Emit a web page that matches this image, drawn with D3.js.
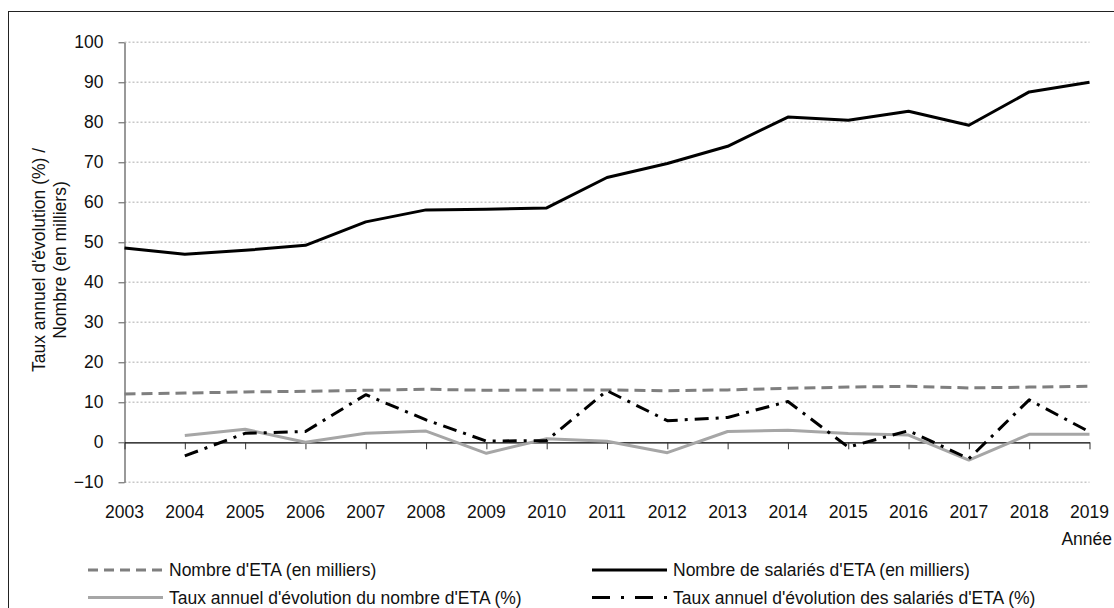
<!DOCTYPE html>
<html>
<head>
<meta charset="utf-8">
<script src="https://cdn.jsdelivr.net/npm/d3@7"></script>
<style>
  html, body { margin: 0; padding: 0; background: #fff; }
  svg { display: block; }
  text { font-family: "Liberation Sans", Arial, sans-serif; fill: #111; }
</style>
</head>
<body>
<svg id="chart" width="1114" height="608"></svg>
<script>
// Années
const years = [2003, 2004, 2005, 2006, 2007, 2008, 2009, 2010, 2011, 2012, 2013, 2014, 2015, 2016, 2017, 2018, 2019];

// Nombre d'ETA (en milliers)
const nbEta = [12.1, 12.3, 12.6, 12.75, 13.0, 13.25, 13.0, 13.1, 13.1, 12.9, 13.1, 13.5, 13.8, 14.0, 13.6, 13.8, 14.0];

// Nombre de salariés d'ETA (en milliers)
const nbSalaries = [48.6, 47.0, 48.0, 49.25, 55.1, 58.1, 58.25, 58.6, 66.2, 69.7, 74.0, 81.3, 80.5, 82.75, 79.25, 87.6, 90.0];

// Taux annuel d'évolution du nombre d'ETA (%) — à partir de 2004
const tauxEta = [null, 1.7, 3.25, 0.0, 2.25, 2.8, -2.75, 0.9, 0.25, -2.6, 2.7, 3.0, 2.2, 1.8, -4.45, 2.0, 2.0];

// Taux annuel d'évolution des salariés d'ETA (%) — à partir de 2004
const tauxSalaries = [null, -3.4, 2.25, 2.7, 11.9, 5.6, 0.3, 0.45, 12.9, 5.4, 6.2, 10.2, -1.2, 2.9, -4.1, 10.6, 2.6];

const yTicks = [-10, 0, 10, 20, 30, 40, 50, 60, 70, 80, 90, 100];

const seriesNames = [
  "Nombre d'ETA (en milliers)",
  "Nombre de salariés d'ETA (en milliers)",
  "Taux annuel d'évolution du nombre d'ETA (%)",
  "Taux annuel d'évolution des salariés d'ETA (%)"
];

const svg = d3.select("#chart");
const FS = 17.5;

// Cadre
svg.append("rect")
  .attr("x", 8.5).attr("y", 11.5)
  .attr("width", 1110).attr("height", 620)
  .attr("fill", "none").attr("stroke", "#222").attr("stroke-width", 1);

const plotLeft = 124.5, plotRight = 1089.5, plotTop = 42.3, plotBottom = 482.3;

const x = d3.scaleLinear().domain([2003, 2019]).range([plotLeft, plotRight]);
const y = d3.scaleLinear().domain([-10, 100]).range([plotBottom, plotTop]);

// Grille pointillée
svg.append("g").selectAll("line")
  .data(yTicks.filter(v => v !== 0))
  .join("line")
  .attr("x1", plotLeft).attr("x2", plotRight)
  .attr("y1", d => y(d)).attr("y2", d => y(d))
  .attr("stroke", "#c8c8c8").attr("stroke-width", 1.5)
  .attr("stroke-dasharray", "2,2");

// Axe des ordonnées
const yAxis = svg.append("g")
  .attr("transform", `translate(${plotLeft},0)`)
  .call(d3.axisLeft(y).tickValues(yTicks).tickSize(6).tickPadding(15).tickSizeOuter(0));
yAxis.select(".domain").attr("stroke", "#777").attr("stroke-width", 1.5);
yAxis.selectAll(".tick line").attr("stroke", "#555");
yAxis.selectAll(".tick text")
  .style("font-family", "'Liberation Sans', Arial, sans-serif")
  .style("font-size", FS + "px").attr("fill", "#111");

// Axe des abscisses (sur la ligne zéro)
const xAxis = svg.append("g")
  .attr("transform", `translate(0,${y(0)})`)
  .call(d3.axisBottom(x).tickValues(years).tickFormat(d3.format("d")).tickSize(7).tickSizeOuter(0));
xAxis.select(".domain").attr("stroke", "#000").attr("stroke-width", 1.3);
xAxis.selectAll(".tick line").attr("stroke", "#333");
xAxis.selectAll(".tick text").remove();

// Libellés des années sous le graphique
svg.append("g").selectAll("text")
  .data(years)
  .join("text")
  .attr("x", d => x(d)).attr("y", 518)
  .attr("text-anchor", "middle")
  .style("font-size", FS + "px")
  .text(d => d);

svg.append("text")
  .attr("x", 1112).attr("y", 545)
  .attr("text-anchor", "end")
  .style("font-size", FS + "px")
  .text("Année");

// Titre de l'axe Y
const yTitle = svg.append("text")
  .attr("transform", `translate(45,260) rotate(-90)`)
  .attr("text-anchor", "middle")
  .style("font-size", FS + "px");
yTitle.append("tspan").attr("x", 0).attr("dy", 0).text("Taux annuel d'évolution (%) /");
yTitle.append("tspan").attr("x", 0).attr("dy", 21).text("Nombre (en milliers)");

// Styles des séries
const styles = [
  { data: nbEta, stroke: "#7f7f7f", width: 3, dash: "11,6" },
  { data: nbSalaries, stroke: "#000", width: 3, dash: null },
  { data: tauxEta, stroke: "#a6a6a6", width: 3, dash: null },
  { data: tauxSalaries, stroke: "#000", width: 3, dash: "14,7,3,7" }
];

const line = d3.line()
  .defined(d => d.v !== null)
  .x(d => x(d.year))
  .y(d => y(d.v));

// Ordre de tracé : courbes grises d'abord
[2, 0, 3, 1].forEach(i => {
  const s = styles[i];
  svg.append("path")
    .datum(years.map((yr, k) => ({ year: yr, v: s.data[k] })))
    .attr("d", line)
    .attr("fill", "none")
    .attr("stroke", s.stroke)
    .attr("stroke-width", s.width)
    .attr("stroke-linejoin", "round")
    .attr("stroke-dasharray", s.dash);
});

// Légende
const legendPos = [
  { x: 88, y: 570 },
  { x: 592, y: 570 },
  { x: 88, y: 597.5 },
  { x: 592, y: 597.5 }
];
const legendDash = ["10,6", null, null, "18,11,3,11"];
seriesNames.forEach((name, i) => {
  const p = legendPos[i], s = styles[i];
  svg.append("line")
    .attr("x1", p.x).attr("x2", p.x + 75)
    .attr("y1", p.y).attr("y2", p.y)
    .attr("stroke", s.stroke).attr("stroke-width", s.width)
    .attr("stroke-dasharray", legendDash[i]);
  svg.append("text")
    .attr("x", p.x + 81).attr("y", p.y + 6)
    .style("font-size", FS + "px")
    .text(name);
});
</script>
</body>
</html>
